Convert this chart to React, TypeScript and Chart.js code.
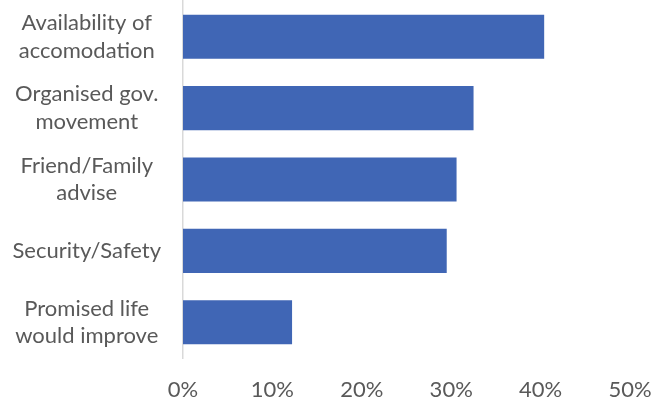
import React, { useEffect, useRef } from "react";
import { Chart, registerables } from "chart.js";

Chart.register(...registerables);

const categories: string[][] = [
  ["Availability of", "accomodation"],
  ["Organised gov.", "movement"],
  ["Friend/Family", "advise"],
  ["Security/Safety"],
  ["Promised life", "would improve"],
];
const values: number[] = [0.404, 0.325, 0.306, 0.295, 0.122];
const xTicks: number[] = [0, 0.1, 0.2, 0.3, 0.4, 0.5];

export default function App() {
  const ref = useRef<HTMLCanvasElement | null>(null);
  useEffect(() => {
    if (!ref.current) return;
    const font = "Lato";
    const chart = new Chart(ref.current, {
      type: "bar",
      data: {
        labels: categories,
        datasets: [
          {
            data: values,
            backgroundColor: "#4066B5",
            borderWidth: 0,
            barPercentage: 0.617,
            categoryPercentage: 1,
          },
        ],
      },
      options: {
        indexAxis: "y",
        responsive: false,
        animation: false,
        devicePixelRatio: 1,
        layout: { padding: { left: 0, right: 33, top: 1, bottom: 0 } },
        plugins: { legend: { display: false }, tooltip: { enabled: false } },
        scales: {
          x: {
            min: 0,
            max: 0.5,
            afterBuildTicks: (scale: any) => {
              scale.ticks = xTicks.map((v) => ({ value: v }));
            },
            afterFit: (scale: any) => {
              scale.height = 42;
              scale.paddingLeft = 0;
              scale.paddingRight = 0;
              scale.paddingTop = 0;
              scale.paddingBottom = 0;
            },
            grid: { display: false },
            border: { display: false },
            ticks: {
              padding: 11,
              color: "#595959",
              font: { family: font, size: 22 },
              callback: (v: any) => Math.round(Number(v) * 100) + "%",
            },
          },
          y: {
            afterFit: (scale: any) => {
              scale.width = 183;
              scale.paddingLeft = 0;
              scale.paddingRight = 0;
              scale.paddingTop = 0;
              scale.paddingBottom = 0;
            },
            grid: { display: false, drawTicks: false },
            border: { display: true, color: "#d9d9d9", width: 1.5 },
            ticks: {
              crossAlign: "center",
              padding: 22,
              color: "#595959",
              font: { family: font, size: 22, lineHeight: 1.25 },
            },
          },
        },
      },
    } as any);
    return () => chart.destroy();
  }, []);
  return (
    <div style={{ position: "fixed", left: 0, top: 0, width: 663, height: 400, background: "#fff" }}>
      <canvas ref={ref} width={663} height={400} style={{ display: "block" }} />
    </div>
  );
}
